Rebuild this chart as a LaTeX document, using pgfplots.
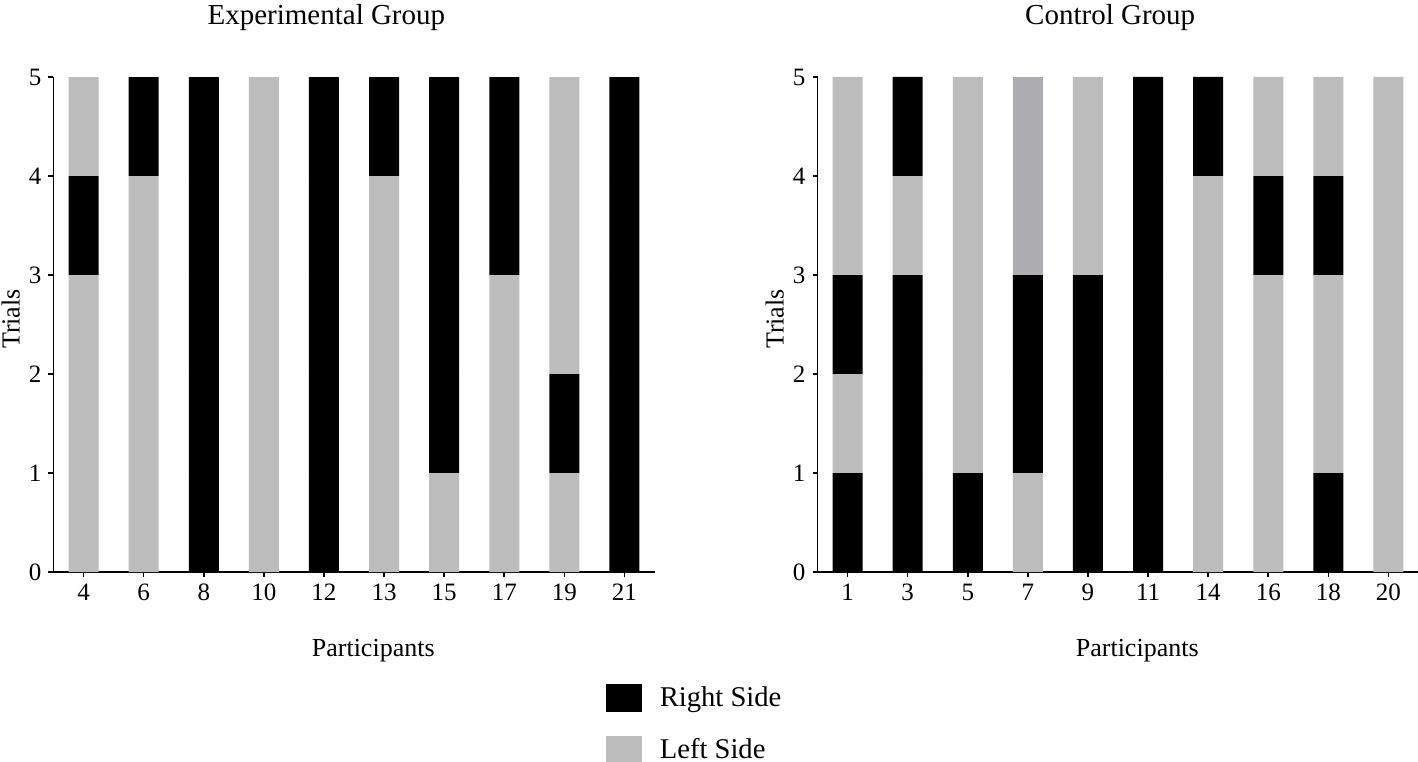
\documentclass[border=0pt]{standalone}
\usepackage{pgfplots}
\pgfplotsset{compat=1.18}
\usepackage{pgfplotstable}
\usepackage{fontspec}
\setmainfont{Liberation Serif}
\definecolor{lgray}{RGB}{187,188,187}
\definecolor{dgray}{RGB}{174,174,178}

% columns: x, then per trial (bottom to top) r = Right (black), l = Left (gray), d = Left (darker gray)
\pgfplotstableread{
x r1 l1 r2 l2 r3 l3 r4 l4 d4 r5 l5 d5
0 0 1 0 1 0 1 1 0 0 0 1 0
1 0 1 0 1 0 1 0 1 0 1 0 0
2 1 0 1 0 1 0 1 0 0 1 0 0
3 0 1 0 1 0 1 0 1 0 0 1 0
4 1 0 1 0 1 0 1 0 0 1 0 0
5 0 1 0 1 0 1 0 1 0 1 0 0
6 0 1 1 0 1 0 1 0 0 1 0 0
7 0 1 0 1 0 1 1 0 0 1 0 0
8 0 1 1 0 0 1 0 1 0 0 1 0
9 1 0 1 0 1 0 1 0 0 1 0 0
}\exptable

\pgfplotstableread{
x r1 l1 r2 l2 r3 l3 r4 l4 d4 r5 l5 d5
0 1 0 0 1 1 0 0 1 0 0 1 0
1 1 0 1 0 1 0 0 1 0 1 0 0
2 1 0 0 1 0 1 0 1 0 0 1 0
3 0 1 1 0 1 0 0 0 1 0 0 1
4 1 0 1 0 1 0 0 1 0 0 1 0
5 1 0 1 0 1 0 1 0 0 1 0 0
6 0 1 0 1 0 1 0 1 0 1 0 0
7 0 1 0 1 0 1 1 0 0 0 1 0
8 1 0 0 1 0 1 1 0 0 0 1 0
9 0 1 0 1 0 1 0 1 0 0 1 0
}\ctltable

\newcommand{\stackbars}[1]{%
  \addplot[fill=black,draw=none] table[x=x,y=r1]{#1};
  \addplot[fill=lgray,draw=none] table[x=x,y=l1]{#1};
  \addplot[fill=black,draw=none] table[x=x,y=r2]{#1};
  \addplot[fill=lgray,draw=none] table[x=x,y=l2]{#1};
  \addplot[fill=black,draw=none] table[x=x,y=r3]{#1};
  \addplot[fill=lgray,draw=none] table[x=x,y=l3]{#1};
  \addplot[fill=black,draw=none] table[x=x,y=r4]{#1};
  \addplot[fill=lgray,draw=none] table[x=x,y=l4]{#1};
  \addplot[fill=dgray,draw=none] table[x=x,y=d4]{#1};
  \addplot[fill=black,draw=none] table[x=x,y=r5]{#1};
  \addplot[fill=lgray,draw=none] table[x=x,y=l5]{#1};
  \addplot[fill=dgray,draw=none] table[x=x,y=d5]{#1};
}

\pgfplotsset{
  panel/.style={
    scale only axis,
    width=300.5pt, height=247.5pt,
    ybar stacked, bar width=15pt,
    xmin=-0.5, xmax=9.5, ymin=0, ymax=5,
    enlargelimits=false,
    axis x line*=bottom, axis y line*=left,
    axis line style={line width=0.8pt},
    tick style={line width=0.8pt, black},
    tick align=outside, major tick length=2.5pt,
    xtick={0,...,9}, ytick={0,...,5},
    /pgf/number format/assume math mode=true,
    tick label style={font=\fontsize{12.5}{14}\selectfont},
    label style={font=\fontsize{13}{15}\selectfont},
    ylabel={Trials}, xlabel={Participants},
    ylabel style={at={(axis description cs:-0.071,0.511)}, anchor=center, rotate=0},
    xlabel style={at={(axis description cs:0.532,-0.159)}, anchor=center},
    clip=false,
  }
}

\begin{document}
\begin{tikzpicture}
\path[use as bounding box] (0,0) rectangle (709pt,380.5pt);

\begin{axis}[panel,
  at={(26.75pt,94.5pt)}, anchor=south west,
  title={Experimental Group},
  title style={at={(axis description cs:0.454,1.096)}, anchor=center, font=\fontsize{14.5}{17}\selectfont},
  xticklabels={4,6,8,10,12,13,15,17,19,21},
  legend entries={Right Side, Left Side},
  legend image code/.code={\fill[#1] (0pt,-7pt) rectangle (18pt,7pt);},
  legend style={at={(axis description cs:0.919,-0.224)}, anchor=north west,
    draw=none, fill=none, inner sep=0pt, outer sep=0pt, row sep=10.5pt,
    font=\fontsize{14.3}{16}\selectfont, cells={anchor=west},
    /tikz/every odd column/.append style={column sep=7pt}},
]
\stackbars{\exptable}
\end{axis}

\begin{axis}[panel,
  at={(408.75pt,94.5pt)}, anchor=south west,
  title={Control Group},
  title style={at={(axis description cs:0.487,1.096)}, anchor=center, font=\fontsize{14.5}{17}\selectfont},
  xticklabels={1,3,5,7,9,11,14,16,18,20},
]
\stackbars{\ctltable}
\end{axis}
\end{tikzpicture}
\end{document}
